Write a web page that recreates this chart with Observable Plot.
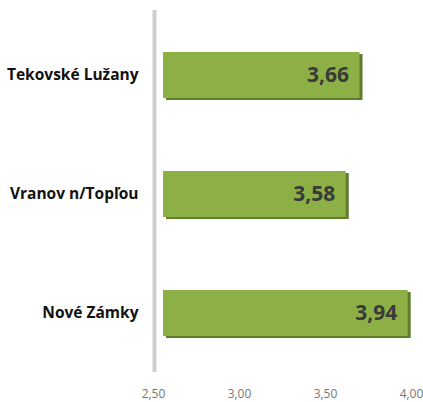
<!DOCTYPE html>
<html>
<head>
<meta charset="utf-8">
<script src="https://cdn.jsdelivr.net/npm/d3@7"></script>
<script src="https://cdn.jsdelivr.net/npm/@observablehq/plot@0.6"></script>
<style>
  html, body { margin: 0; padding: 0; background: #ffffff; }
  #chart { width: 423px; height: 402px; overflow: hidden; }
</style>
</head>
<body>
<div id="chart"></div>
<script>
const categories = ["Tekovské Lužany", "Vranov n/Topľou", "Nové Zámky"];
const values = [3.66, 3.58, 3.94];
const xTicks = [2.5, 3.0, 3.5, 4.0];
const baseline = 2.5;

const data = categories.map((c, i) => ({ name: c, value: values[i] }));
const fmt = v => v.toFixed(2).replace(".", ",");

const chart = Plot.plot({
  width: 423,
  height: 402,
  marginLeft: 160,
  marginRight: 5,
  marginTop: 4,
  marginBottom: 18,
  style: { background: "#ffffff", overflow: "visible" },
  x: { domain: [2.5, 4.0], ticks: xTicks, tickFormat: fmt },
  y: { domain: categories, paddingInner: 0.613, paddingOuter: 0.4 },
  marks: [
    Plot.ruleX([baseline], { stroke: "#cfcfcf", strokeWidth: 4, dx: -6, insetTop: 6, insetBottom: 12 }),
    Plot.barX(data, { x1: () => baseline, x2: "value", y: "name", fill: "#5f7d2c", insetLeft: 3, dx: 3, dy: 2 }),
    Plot.barX(data, { x1: () => baseline, x2: "value", y: "name", fill: "#8cb045", insetLeft: 3 }),
    Plot.text(data, {
      x: "value", y: "name", text: d => fmt(d.value), textAnchor: "end", dx: -11,
      fill: "#3a3a3a", fontSize: 21, fontWeight: 700, fontFamily: "Open Sans"
    }),
    Plot.axisY({
      tickSize: 0, tickPadding: 22, label: null,
      fontSize: 15.5, fontWeight: 700, fontFamily: "Open Sans", color: "#111111"
    }),
    Plot.axisX({
      ticks: xTicks, tickFormat: fmt, tickSize: 0, tickPadding: 5, label: null, dx: -7,
      fontSize: 12, fontFamily: "Open Sans", color: "#777777"
    })
  ]
});
document.getElementById("chart").appendChild(chart);
</script>
</body>
</html>
